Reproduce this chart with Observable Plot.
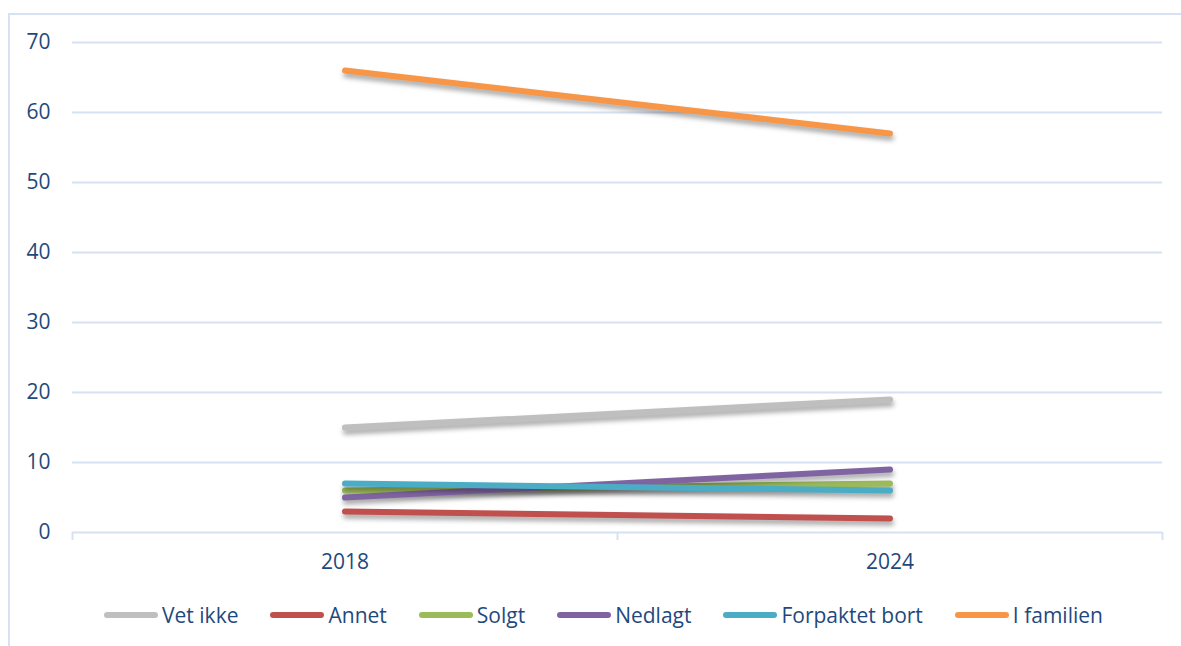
<!DOCTYPE html>
<html>
<head>
<meta charset="utf-8">
<script src="https://cdn.jsdelivr.net/npm/d3@7"></script>
<script src="https://cdn.jsdelivr.net/npm/@observablehq/plot@0.6"></script>
<style>
  html, body { margin: 0; padding: 0; background: #fff; }
  #wrap { position: relative; width: 1181px; height: 646px; overflow: hidden; font-family: "Open Sans", sans-serif; }
  #frame { position: absolute; left: 8px; top: 13px; width: 1300px; height: 800px; border-top: 2px solid #d6e2f3; border-left: 2px solid #d6e2f3; box-sizing: border-box; }
  #chart { position: absolute; left: 0; top: 0; }
  #legend { position: absolute; left: 0; width: 1207px; top: 603px; height: 24px; display: flex; justify-content: center; align-items: center; gap: 32px; color: #1f497d; font-size: 21px; }
  .item { display: flex; align-items: center; white-space: nowrap; }
  .sw { display: inline-block; width: 54px; height: 6px; border-radius: 3px; margin-right: 4px; }
</style>
</head>
<body>
<div id="wrap">
  <div id="frame"></div>
  <div id="chart"></div>
  <div id="legend"></div>
</div>
<script>
const years = [2018, 2024];
const categories = ["Vet ikke", "Annet", "Solgt", "Nedlagt", "Forpaktet bort", "I familien"];
const values2018 = [15, 3, 6, 5, 7, 66];
const values2024 = [19, 2, 7, 9, 6, 57];
const colors = ["#bfbfbf", "#c0504d", "#9bbb59", "#8064a2", "#4bacc6", "#f79646"];
const yTicks = [0, 10, 20, 30, 40, 50, 60, 70];
const xBoundaries = [2015, 2021, 2027];

const gridColor = "#d6e2f3";
const textColor = "#1f497d";

const rows = [];
categories.forEach((c, i) => {
  rows.push({category: c, year: years[0], value: values2018[i]});
  rows.push({category: c, year: years[1], value: values2024[i]});
});

const plot = Plot.plot({
  width: 1181,
  height: 585,
  marginLeft: 72,
  marginRight: 19,
  marginTop: 42,
  marginBottom: 53,
  style: {color: textColor, background: "transparent", fontFamily: "'Open Sans', sans-serif", fontSize: "21px"},
  x: {type: "linear", domain: [xBoundaries[0], xBoundaries[xBoundaries.length - 1]]},
  y: {domain: [yTicks[0], yTicks[yTicks.length - 1]]},
  color: {domain: categories, range: colors},
  marks: [
    Plot.gridY(yTicks, {stroke: gridColor, strokeOpacity: 1, strokeWidth: 2}),
    Plot.axisY(yTicks, {tickSize: 0, tickPadding: 22, label: null, tickFormat: d => String(d)}),
    Plot.axisX(xBoundaries, {tickSize: 8, stroke: gridColor, strokeWidth: 2, strokeOpacity: 1, tickFormat: () => "", label: null}),
    Plot.axisX(years, {tickSize: 0, tickPadding: 22, label: null, tickFormat: d => String(d)}),
    Plot.line(rows, {x: "year", y: "value", z: "category", stroke: "category", strokeWidth: 6, strokeLinecap: "round"})
  ]
});
plot.querySelectorAll('g[aria-label="line"] path').forEach(p => {
  p.style.filter = "drop-shadow(1px 4px 2.5px rgba(0,0,0,0.35))";
});
document.getElementById("chart").appendChild(plot);

const legend = document.getElementById("legend");
categories.forEach((c, i) => {
  const item = document.createElement("div");
  item.className = "item";
  const sw = document.createElement("span");
  sw.className = "sw";
  sw.style.background = colors[i];
  const t = document.createElement("span");
  t.textContent = c;
  item.appendChild(sw);
  item.appendChild(t);
  legend.appendChild(item);
});
</script>
</body>
</html>
